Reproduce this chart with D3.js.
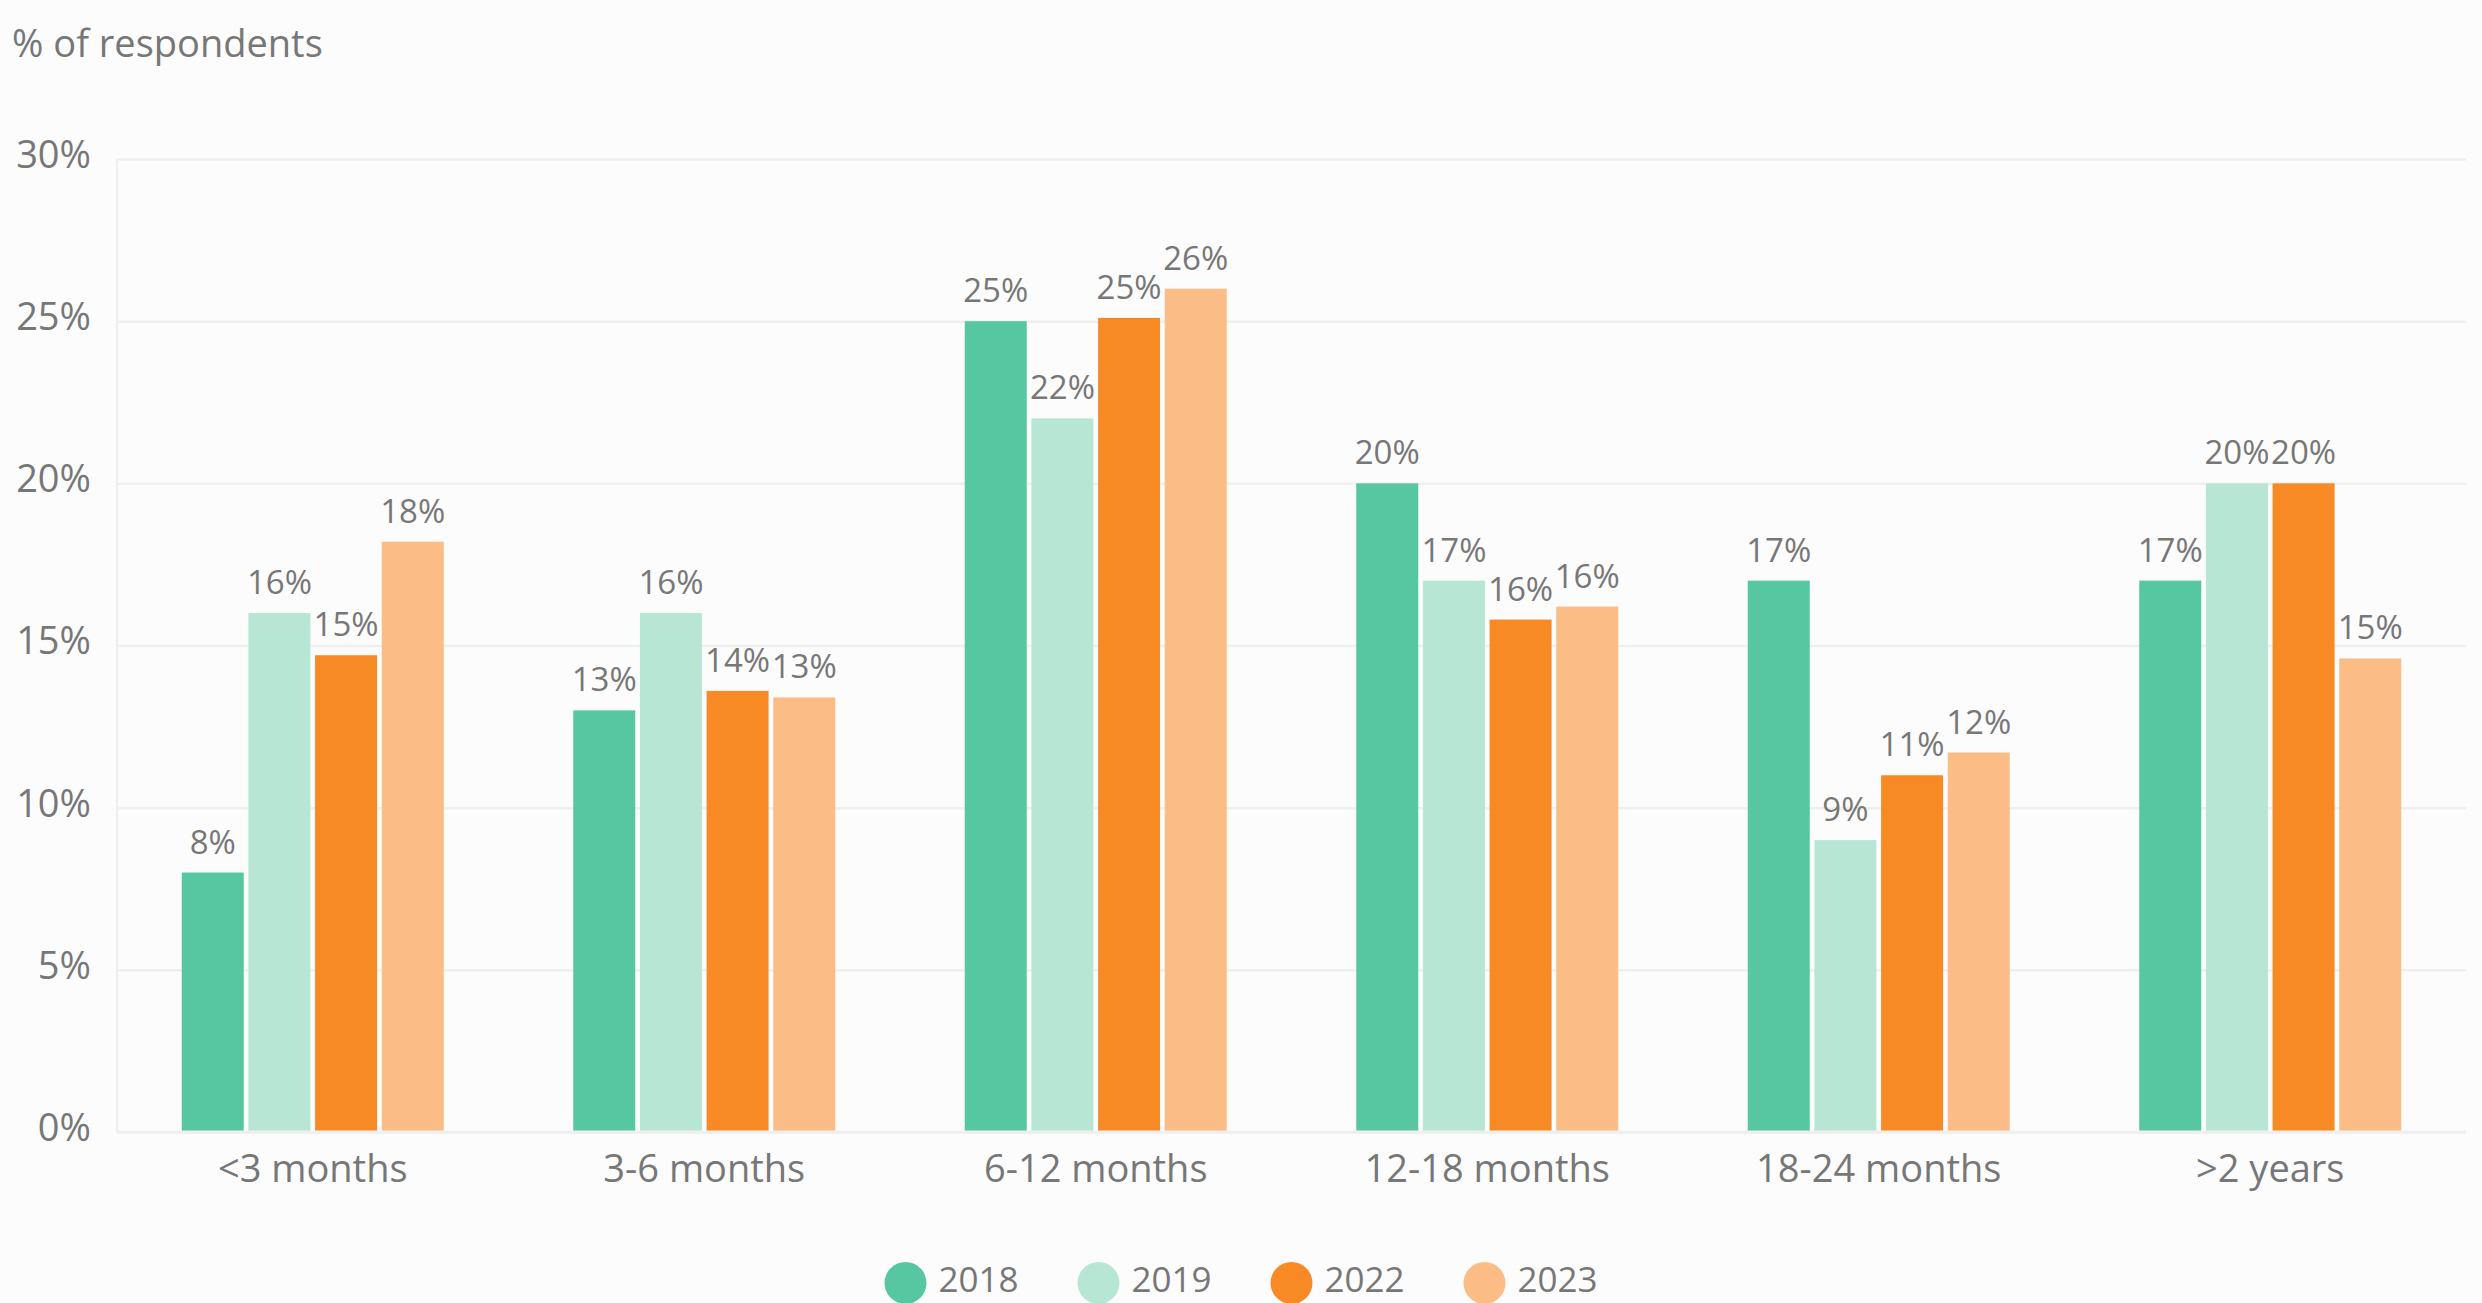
<!DOCTYPE html>
<html>
<head>
<meta charset="utf-8">
<script src="https://cdn.jsdelivr.net/npm/d3@7"></script>
<style>
  html, body { margin: 0; padding: 0; background: #fcfcfc; }
  svg { display: block; font-family: "Open Sans", "Noto Sans", sans-serif; }
</style>
</head>
<body>
<svg id="chart" width="2482" height="1303"></svg>
<script>
// Time ranges on the x axis
const categories = ["<3 months", "3-6 months", "6-12 months", "12-18 months", "18-24 months", ">2 years"];
// Survey years (one bar per year inside each group)
const years = ["2018", "2019", "2022", "2023"];
// Share of respondents (%) per year, in category order
const values2018 = [8, 13, 25, 20, 17, 17];
const values2019 = [16, 16, 22, 17, 9, 20];
const values2022 = [14.7, 13.6, 25.1, 15.8, 11, 20];
const values2023 = [18.2, 13.4, 26, 16.2, 11.7, 14.6];
// Y axis ticks
const yTicks = [0, 5, 10, 15, 20, 25, 30];
const yLabel = "% of respondents";

const seriesValues = { "2018": values2018, "2019": values2019, "2022": values2022, "2023": values2023 };
const colors = { "2018": "#56c7a0", "2019": "#b7e6d5", "2022": "#f88a25", "2023": "#fbbd85" };

const W = 2482, H = 1303;
const plotLeft = 117, plotRight = 2466, plotTop = 159, plotBottom = 1132;
const textColor = "#777777";
const gridColor = "#efefef";

const svg = d3.select("#chart");
svg.append("rect").attr("width", W).attr("height", H).attr("fill", "#fcfcfc");

const y = d3.scaleLinear().domain([0, 30]).range([plotBottom, plotTop]);
const x0 = d3.scaleBand().domain(categories).range([plotLeft, plotRight]).padding(0);
const groupSpan = 262;
const x1 = d3.scaleBand().domain(years).range([0, groupSpan]).paddingInner(0.07).paddingOuter(0);

// Gridlines and y tick labels
const yAxis = d3.axisLeft(y)
  .tickValues(yTicks)
  .tickSize(-(plotRight - plotLeft))
  .tickPadding(26)
  .tickFormat(d => d + "%");

const gy = svg.append("g")
  .attr("transform", `translate(${plotLeft},0)`)
  .call(yAxis);
gy.select(".domain").remove();
gy.selectAll(".tick line").attr("stroke", gridColor).attr("stroke-width", 2.5);
gy.selectAll(".tick text")
  .attr("fill", textColor)
  .attr("font-size", 38)
  .attr("font-family", "Open Sans, sans-serif")
  .attr("dy", "0.22em");

// Left vertical axis line
svg.append("line")
  .attr("x1", plotLeft).attr("x2", plotLeft)
  .attr("y1", plotTop).attr("y2", plotBottom)
  .attr("stroke", gridColor).attr("stroke-width", 2.5);

// Y axis title
svg.append("text")
  .attr("x", 12).attr("y", 57)
  .attr("fill", textColor)
  .attr("font-size", 38)
  .text(yLabel);

// Bars
const rows = categories.map((c, i) => ({
  category: c,
  bars: years.map(yr => ({ year: yr, value: seriesValues[yr][i] }))
}));

const groups = svg.append("g").selectAll("g")
  .data(rows)
  .join("g")
  .attr("transform", d => `translate(${x0(d.category) + (x0.bandwidth() - groupSpan) / 2},0)`);

groups.selectAll("rect")
  .data(d => d.bars)
  .join("rect")
  .attr("x", d => x1(d.year))
  .attr("width", x1.bandwidth())
  .attr("y", d => y(d.value))
  .attr("height", d => y(0) - y(d.value))
  .attr("fill", d => colors[d.year]);

groups.selectAll("text")
  .data(d => d.bars)
  .join("text")
  .attr("x", d => x1(d.year) + x1.bandwidth() / 2)
  .attr("y", d => y(d.value) - 19)
  .attr("text-anchor", "middle")
  .attr("fill", textColor)
  .attr("font-size", 33)
  .text(d => Math.round(d.value) + "%");

// X axis category labels
const xAxis = d3.axisBottom(x0).tickSize(0).tickPadding(0);
const gx = svg.append("g")
  .attr("transform", `translate(0,${plotBottom})`)
  .call(xAxis);
gx.select(".domain").remove();
gx.selectAll(".tick text")
  .attr("fill", textColor)
  .attr("font-size", 38)
  .attr("font-family", "Open Sans, sans-serif")
  .attr("dy", 0)
  .attr("y", 50);

// Baseline
svg.append("line")
  .attr("x1", plotLeft).attr("x2", plotRight)
  .attr("y1", plotBottom).attr("y2", plotBottom)
  .attr("stroke", gridColor).attr("stroke-width", 3);

// Legend, centred on the page
const itemStep = 193;
const legendWidth = itemStep * (years.length - 1) + 21 + 33 + 80;
const legendStart = W / 2 - legendWidth / 2 + 21;
const legend = svg.append("g").selectAll("g")
  .data(years)
  .join("g")
  .attr("transform", (d, i) => `translate(${legendStart + i * itemStep},1283)`);
legend.append("circle").attr("r", 21).attr("fill", d => colors[d]);
legend.append("text")
  .attr("x", 33).attr("y", 9)
  .attr("fill", textColor)
  .attr("font-size", 35)
  .text(d => d);
</script>
</body>
</html>
